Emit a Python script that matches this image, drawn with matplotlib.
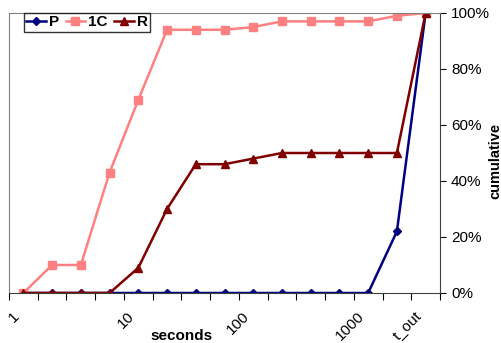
import matplotlib.pyplot as plt
import matplotlib.transforms as mtransforms
import numpy as np
from matplotlib.ticker import FixedLocator, PercentFormatter

plt.rcParams['font.family'] = ['Liberation Sans', 'DejaVu Sans']

# categories (log spaced timeouts, 4 per decade) and labels shown
categories = ['1', '', '', '', '10', '', '', '', '100', '', '', '', '1000', '', 't_out']
p_vals = [0, 0, 0, 0, 0, 0, 0, 0, 0, 0, 0, 0, 0, 22, 100]
c1_vals = [0, 10, 10, 43, 69, 94, 94, 94, 95, 97, 97, 97, 97, 99, 100]
r_vals = [0, 0, 0, 0, 9, 30, 46, 46, 48, 50, 50, 50, 50, 50, 100]

x = np.arange(len(categories))

fig = plt.figure(figsize=(5.02, 3.43), dpi=100)
ax = fig.add_axes([9 / 502, 1 - 293 / 343, 431 / 502, 280 / 343])

ax.plot(x, p_vals, color='#000080', marker='D', markersize=4, lw=1.8, label='P')
ax.plot(x, c1_vals, color='#FF8080', marker='s', markersize=6, lw=1.8, label='1C')
ax.plot(x, r_vals, color='#800000', marker='^', markersize=6, lw=1.8, label='R')

ax.set_xlim(-0.5, len(categories) - 0.5)
ax.set_ylim(0, 100)

ax.yaxis.tick_right()
ax.yaxis.set_label_position('right')
ax.set_yticks(np.arange(0, 101, 20))
ax.yaxis.set_major_formatter(PercentFormatter(decimals=0))
ax.tick_params(axis='y', direction='out', length=4, labelsize=11, pad=4)

ax.xaxis.set_major_locator(FixedLocator(np.arange(-0.5, len(categories), 1)))
ax.xaxis.set_minor_locator(FixedLocator(x))
ax.set_xticklabels([])
ax.set_xticklabels(categories, minor=True, rotation=45, ha='right',
                   rotation_mode='anchor', fontsize=11)
ax.tick_params(axis='x', which='major', direction='out', length=5)
ax.tick_params(axis='x', which='minor', length=0, pad=8)
shift = mtransforms.ScaledTranslation(-11 / 100, -5 / 100, fig.dpi_scale_trans)
for lbl in ax.get_xticklabels(minor=True):
    lbl.set_transform(lbl.get_transform() + shift)

for side in ['top', 'left']:
    ax.spines[side].set_color('#808080')
for side in ['bottom', 'right']:
    ax.spines[side].set_color('#404040')

ax.set_xlabel('seconds', fontsize=11, fontweight='bold')
ax.xaxis.set_label_coords(0.40, -0.13)
ax.set_ylabel('cumulative', fontsize=10.5, fontweight='bold',
              ha='center', va='center')
ax.yaxis.set_label_coords((495 - 9) / 431, (293 - 161) / 280)

leg = ax.legend(loc='upper left', bbox_to_anchor=(0.035, 1.0), ncol=3,
                frameon=True, fancybox=False, edgecolor='black',
                prop={'weight': 'bold', 'size': 11}, handlelength=1.3,
                handletextpad=0.2, columnspacing=0.4, borderpad=0.15,
                borderaxespad=0)
leg.get_frame().set_linewidth(1)

fig.savefig('out.png', dpi=100)
